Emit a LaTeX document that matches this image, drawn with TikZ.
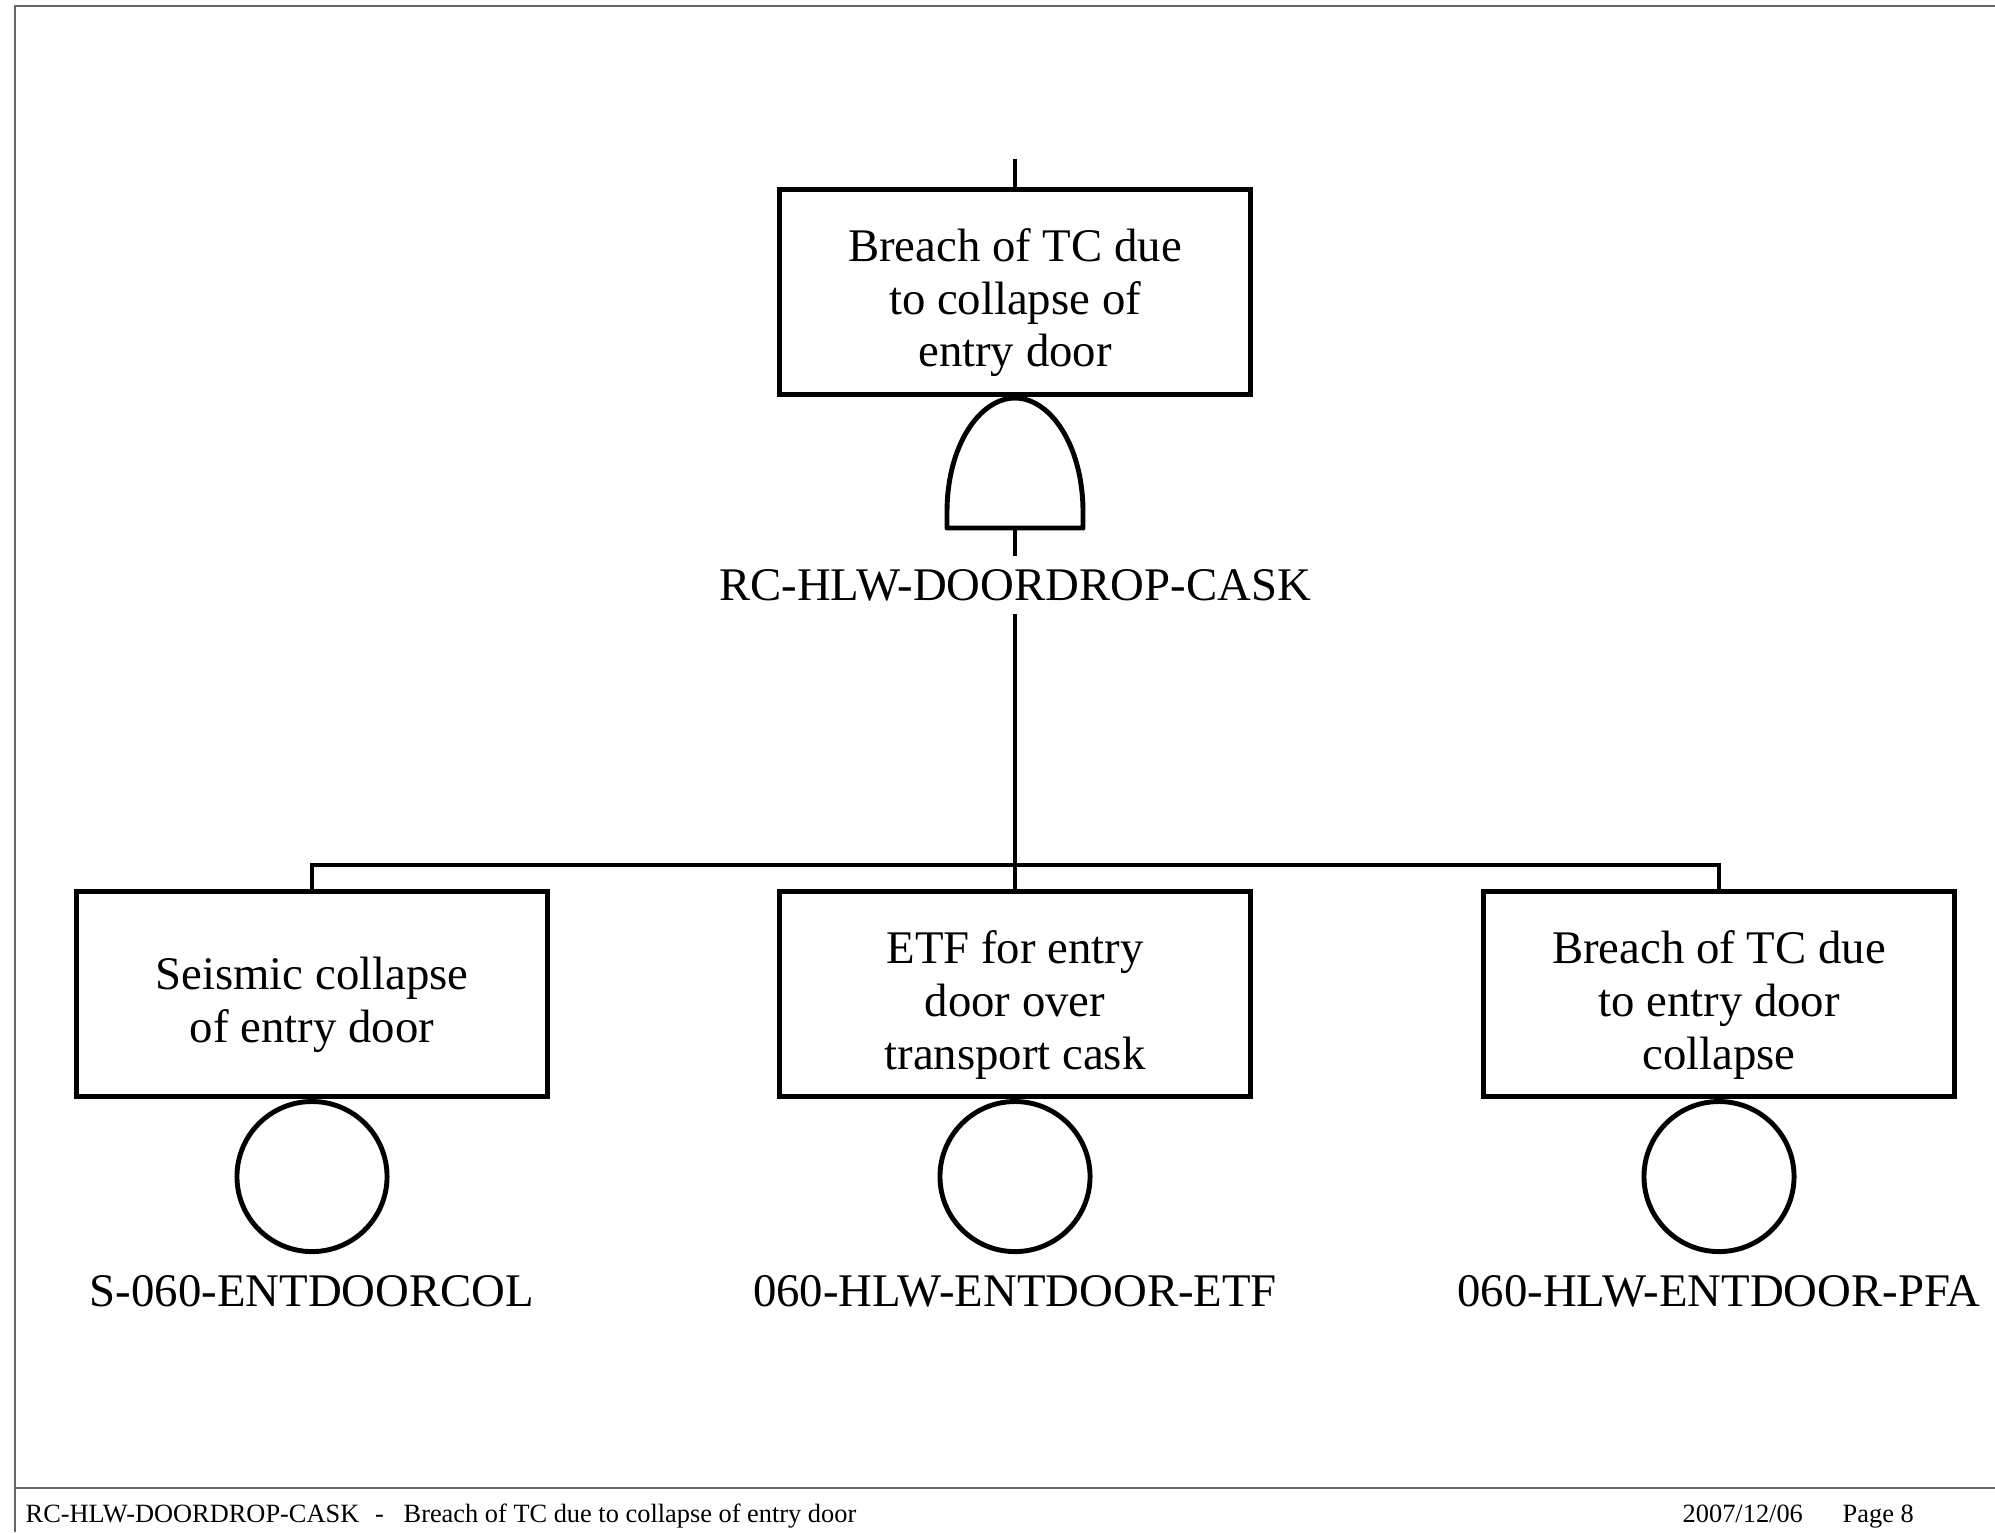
\documentclass[tikz,border=0pt]{standalone}
\usepackage{fontspec}
\setmainfont{Liberation Serif}
\usetikzlibrary{positioning, calc}
\newcommand{\tstrut}{\rule{0pt}{15.5pt}}

\begin{document}
\begin{tikzpicture}[
  x=0.01cm, y=-0.01cm,
  box/.style   ={draw, line width=1.4pt, minimum width=4.71cm, minimum height=2.05cm,
                 align=center, inner sep=0pt, font=\fontsize{13.3}{15}\selectfont},
  basic/.style ={draw, circle, line width=1.4pt, minimum size=1.5cm, inner sep=0pt},
  lbl/.style   ={inner sep=3.5pt, font=\fontsize{13.3}{15}\selectfont},
  wire/.style  ={line width=1.4pt},
  frame/.style ={draw=gray!80!black, line width=0.6pt},
  foot/.style  ={inner sep=0pt, anchor=base west, font=\fontsize{7.5}{9}\selectfont},
]
\useasboundingbox (0,0) rectangle (1995,1532);

%% ---- Page frame ----
\draw[frame] (15,1532) -- (15,6) -- (1995,6);
\draw[frame] (15,1488) -- (1995,1488);

%% ---- Top event + AND gate ----
\node[box] (top) at (1015,292) {\tstrut Breach of TC due\\to collapse of\\entry door};
\coordinate (in) at (1015,159);
\draw[wire] (in) -- (top.north);
\coordinate (gbot) at (1015,528);
\draw[wire, line join=round] (947,528) -- (947,512)
  .. controls (947,445) and (980,398) .. (1015,398)
  .. controls (1050,398) and (1083,445) .. (1083,512) -- (1083,528) -- cycle;
\node[lbl] (gname) at (1015,585) {RC-HLW-DOORDROP-CASK};
\draw[wire] (gbot) -- (gname.north);

%% ---- Basic events ----
\node[box] (seis) at (312,994)  {\tstrut Seismic collapse\\of entry door};
\node[box] (etf)  at (1015,994) {\tstrut ETF for entry\\door over\\transport cask};
\node[box] (pfa)  at (1719,994) {\tstrut Breach of TC due\\to entry door\\collapse};

\node[basic, below=0pt of seis] (seisev) {};
\node[basic, below=0pt of etf]  (etfev)  {};
\node[basic, below=0pt of pfa]  (pfaev)  {};

\node[lbl, below=0.08cm of seisev] (seisid) {S-060-ENTDOORCOL};
\node[lbl, below=0.08cm of etfev]  (etfid)  {060-HLW-ENTDOOR-ETF};
\node[lbl, below=0.08cm of pfaev]  (pfaid)  {060-HLW-ENTDOOR-PFA};

%% ---- Connectors ----
\coordinate (bar) at (1015,865);
\draw[wire] (gname.south) -- (etf.north);
\draw[wire] (seis.north) |- (bar) -| (pfa.north);

%% ---- Footer ----
\node[foot] (ftitle) at (25,1522) {RC-HLW-DOORDROP-CASK\hspace{0.6em}-\hspace{0.75em}Breach of TC due to collapse of entry door};
\node[foot] (fdate) at (1682,1522) {2007/12/06};
\node[foot] (fpage) at (1842,1522) {Page 8};

\end{tikzpicture}
\end{document}
